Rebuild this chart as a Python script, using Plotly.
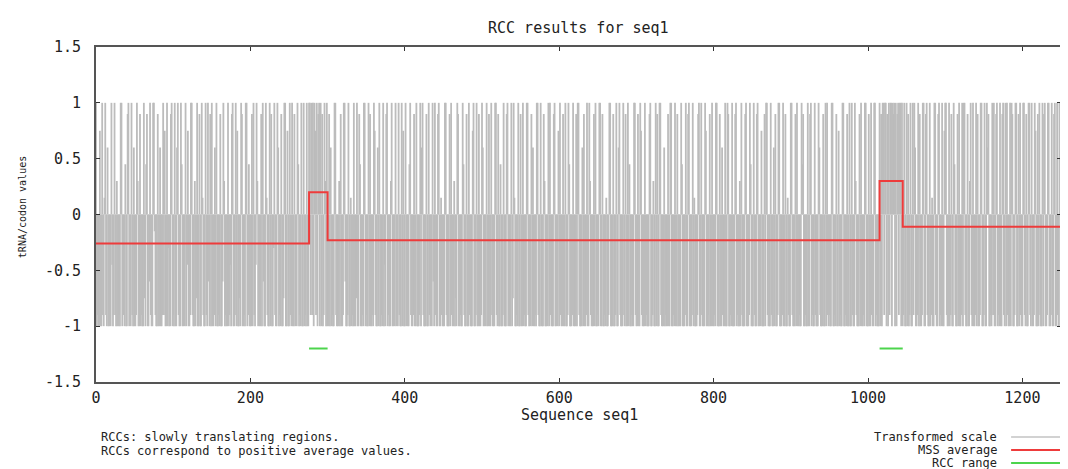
import plotly.graph_objects as go

# ---- data ----
# transformed tRNA/codon value per sequence position, one code per position
level_codes = {
    "A": 1.0, "B": 0.9, "C": 0.75, "D": 0.6, "E": 0.45, "F": 0.3, "G": 0.15,
    "a": -1.0, "b": -0.9, "c": -0.75, "d": -0.6, "e": -0.45, "f": -0.3, "g": -0.15,
}
transformed_codes = (
    "AabaaCaaAbaGAbaDaabaAeabAbaFaabaAAadbaEaaBAacaAbaD"
    "aabAFaaBabaaAcaEBaadAbaaAAgbaaBaaDaabAbCaaAafaaBAa"
    "baAaaDAbaaAEaabaAaeCaabAAbaaFacAaaBaaAGbaaAbaAdaBa"
    "AaabDaAaabaBaadAFabaaAabeaBAaabAaCaacaABaabaAAabEa"
    "aaBaAbaeAFabaaBaAdaaAGbaaAaBaafAbaaADabaBaacAAaaCa"
    "aAbaAaaBabaAEabaAaaAabaAaaAAbAbAaACbAaBAaAaBabAFaA"
    "aaBaDabaaAAbaaaFaBaabAAdaabAaaGabaAaacAaaBEaabaAAa"
    "baaAaBaabaACbaaDaAaabaAaeaBAabaaFAaabaAadaAbaaAaCa"
    "aAabaaEAbaabBaaAaaabAaDAbaaaBaaAbaeaAdaAbaaBAaaGba"
    "aaAAbaaaBaAbaaFacaABaabaaAEbaaBaaAbaaaCAaabAaaBaab"
    "ADaabaAaaBaaAbaaaAAbaBaaEaabAaaaBAabaaAacAGaabaAaa"
    "BaaAabaaAAbaeaBaDaabaAAbaaAaaaBFaabaAaAbaaaBAaabaC"
    "aAbaaBaaAaabAEaaabAaaaBaAAbaaaDaBaabAaaAFbaaaBaAaa"
    "baAAaaBaabaGaabAAaaaBaabAaaDAbaaaAbaBaaAaEaabaaAAb"
    "aaBaaACbaaaAabaaaBAaabFaaAaBaaAAbaaaDabaaBaaAAaaba"
    "AaaBabaaAEaaabAaaBAaaabAaGaaabBAaaAbaaaACaabaBaaAa"
    "abaAAaaaBaaDbaaAaaABaabaAaaaBAabaaFaAbaaaBAaaabAEa"
    "aaAbaaBAaabaCaaaBaAAbaaaAbaaDaBaabAAaaabAaaBaaGbaa"
    "AAbaaaBaAaabaaAEBaabaaAaaBAabaaAbaaaADbaaaBaaAaAba"
    "baaAAaabaBaaCabaaAAaabaBaaAaaAbaaAFbaaaBaAaabaAAaa"
    "aBaaAbaaAAabaaaAaBaAAbAAaBaAbAAaABAaAaBAbAAaAabAaa"
    "AaBabAaaAbADaabAaBaabAAaaBAbaaAabGaaAAbaaBAabaAaaC"
    "AAbaaAabBaaAEbaaBaAaabAaAAbaaBaaFAbaAaabAaBaabAAaa"
    "bAaaADBaabaAbAaaBAabaAaaBAbaAaAbaaAaABaabAAaaBaAba"
    "aAAbaBaaAAbaAaabACaaBaAbaaAaBAaabAAaabAaaBAaaAbaAa"
)
transformed_vals = [level_codes[c] for c in transformed_codes]
positions = list(range(len(transformed_vals)))

# MSS average step line (start of each step, value)
mss_x = [0, 276, 300, 1015, 1045, 1250]
mss_y = [-0.26, 0.20, -0.23, 0.30, -0.11, -0.11]

# RCC ranges
rcc_ranges = [(276, 300), (1015, 1045)]
rcc_level = -1.2

x_ticks = [0, 200, 400, 600, 800, 1000, 1200]
y_ticks = [-1.5, -1, -0.5, 0, 0.5, 1, 1.5]
y_tick_text = ["-1.5", "-1", "-0.5", "0", "0.5", "1", "1.5"]

title_text = "RCC results for seq1"
x_title = "Sequence seq1"
y_title = "tRNA/codon values"
notes = ["RCCs: slowly translating regions.",
         "RCCs correspond to positive average values."]
legend_items = [("Transformed scale", "#d2d2d2"),
                ("MSS average", "#ee3b3b"),
                ("RCC range", "#4cd44c")]

# ---- figure ----
# page is rendered with an 8px body margin, so the figure sits at (8, 8)
OFF = 8
W, H = 1068 - OFF, 469 - OFF
L, R, T, B = 96, 1063, 47, 382   # plot area in page pixels
FONT = "DejaVu Sans Mono"
TXT = "#222222"


def px_x(p):
    return (p - L) / (R - L)


def px_y(p):
    return (B - p) / (B - T)


imp_x, imp_y = [], []
for xi, v in zip(positions, transformed_vals):
    imp_x += [xi, xi, None]
    imp_y += [0, v, None]

fig = go.Figure()
fig.add_trace(go.Scatter(x=imp_x, y=imp_y, mode="lines",
                         line=dict(color="#bcbcbc", width=1.8),
                         hoverinfo="skip"))
fig.add_trace(go.Scatter(x=mss_x, y=mss_y, mode="lines", line_shape="hv",
                         line=dict(color="#ee3b3b", width=2)))
for a, b in rcc_ranges:
    fig.add_trace(go.Scatter(x=[a, b], y=[rcc_level, rcc_level], mode="lines",
                             line=dict(color="#4cd44c", width=2)))

axis_common = dict(showgrid=False, zeroline=False, showline=True,
                   linecolor="#555555", linewidth=2, mirror="ticks",
                   ticks="inside", ticklen=4, tickcolor="#333333",
                   tickfont=dict(family=FONT, size=15, color=TXT))

fig.update_xaxes(range=[0, 1250], tickvals=x_ticks,
                 ticktext=[str(t) for t in x_ticks], ticklabelstandoff=1,
                 **axis_common)
fig.update_yaxes(range=[-1.5, 1.5], tickvals=y_ticks, ticktext=y_tick_text,
                 ticklabelstandoff=10, **axis_common)

ann = []
ann.append(dict(text=title_text, x=0.5, y=px_y(28), xref="paper", yref="paper",
                showarrow=False, xanchor="center", yanchor="middle",
                font=dict(family=FONT, size=15, color=TXT)))
ann.append(dict(text=x_title, x=px_x(581), y=px_y(415), xref="paper", yref="paper",
                showarrow=False, xanchor="center", yanchor="middle",
                font=dict(family=FONT, size=15, color=TXT)))
ann.append(dict(text=y_title, x=px_x(22), y=px_y(207), xref="paper", yref="paper",
                showarrow=False, xanchor="center", yanchor="middle", textangle=-90,
                font=dict(family=FONT, size=10, color=TXT)))
for i, t in enumerate(notes):
    ann.append(dict(text=t, x=px_x(99), y=px_y(437 + 14 * i), xref="paper",
                    yref="paper", showarrow=False, xanchor="left", yanchor="middle",
                    font=dict(family=FONT, size=12, color=TXT)))
shapes = []
for i, (t, c) in enumerate(legend_items):
    yy = px_y(437 + 13 * i)
    ann.append(dict(text=t, x=px_x(1001), y=yy, xref="paper", yref="paper",
                    showarrow=False, xanchor="right", yanchor="middle",
                    font=dict(family=FONT, size=12, color=TXT)))
    shapes.append(dict(type="line", xref="paper", yref="paper",
                       x0=px_x(1013), x1=px_x(1062), y0=yy, y1=yy,
                       line=dict(color=c, width=2)))

fig.update_layout(width=W, height=H, autosize=False,
                  margin=dict(l=L - OFF, r=1068 - R, t=T - OFF, b=469 - B),
                  paper_bgcolor="white", plot_bgcolor="white",
                  showlegend=False, annotations=ann, shapes=shapes)

fig.write_html("out.html")
